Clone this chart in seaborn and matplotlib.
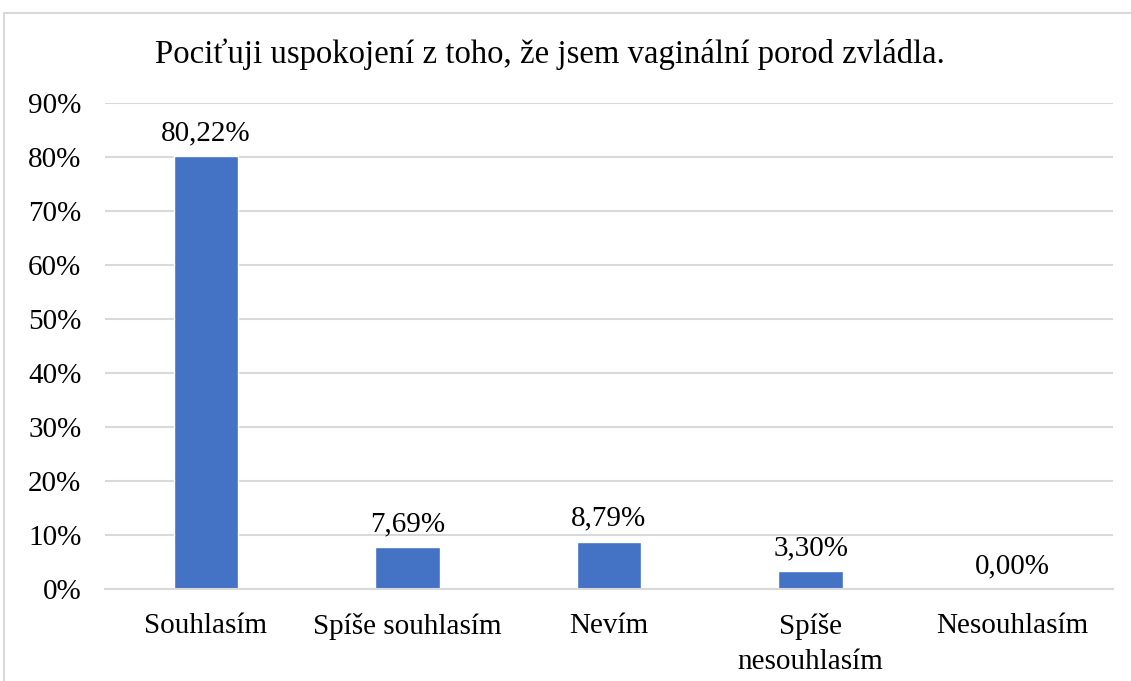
import matplotlib
matplotlib.use("Agg")
import matplotlib.pyplot as plt
import matplotlib.patches as mpatches
from matplotlib.ticker import FuncFormatter
import seaborn as sns
import pandas as pd

categories = ["Souhlasím", "Spíše souhlasím", "Nevím", "Spíše\nnesouhlasím", "Nesouhlasím"]
values = [80.22, 7.69, 8.79, 3.30, 0.00]
title = "Pociťuji uspokojení z toho, že jsem vaginální porod zvládla."

sns.set_theme(style="white")
plt.rcParams["font.family"] = ["Liberation Serif", "DejaVu Serif"]
plt.rcParams["text.color"] = "black"

df = pd.DataFrame({"cat": categories, "val": values})

fig = plt.figure(figsize=(11.31, 6.81), dpi=100)
ax = fig.add_axes([105/1131, 1-589/681, (1113-105)/1131, (589-103)/681])

sns.barplot(data=df, x="cat", y="val", color="#4472C4", width=0.32, ax=ax, saturation=1)

ax.set_ylim(0, 90)
ax.set_yticks(range(0, 91, 10))
ax.yaxis.set_major_formatter(FuncFormatter(lambda v, p: f"{int(v)}%"))
ax.grid(axis="y", color="#d9d9d9", linewidth=1.5)
ax.set_axisbelow(True)
for s in ["top", "right", "left"]:
    ax.spines[s].set_visible(False)
ax.spines["bottom"].set_color("#d9d9d9")
ax.spines["bottom"].set_linewidth(1.5)
ax.set_xlabel("")
ax.set_ylabel("")
ax.tick_params(axis="both", length=0, labelsize=21, colors="black")
ax.tick_params(axis="x", pad=17)
ax.tick_params(axis="y", pad=17)
for lbl in ax.get_xticklabels():
    lbl.set_linespacing(1.45)

for i, v in enumerate(values):
    ax.annotate(f"{v:.2f}%".replace(".", ","), (i, v), xytext=(0, 7),
                textcoords="offset points", ha="center", va="bottom", fontsize=21, color="black")

fig.text(550/1131, 1-54/681, title, ha="center", va="center", fontsize=23.6, color="black")

border = mpatches.Rectangle((4/1131, -0.1), 1.2, 1-13/681+0.1, transform=fig.transFigure,
                            fill=False, edgecolor="#d9d9d9", linewidth=1.5, clip_on=False)
fig.patches.append(border)

fig.savefig("out.png", dpi=100)
